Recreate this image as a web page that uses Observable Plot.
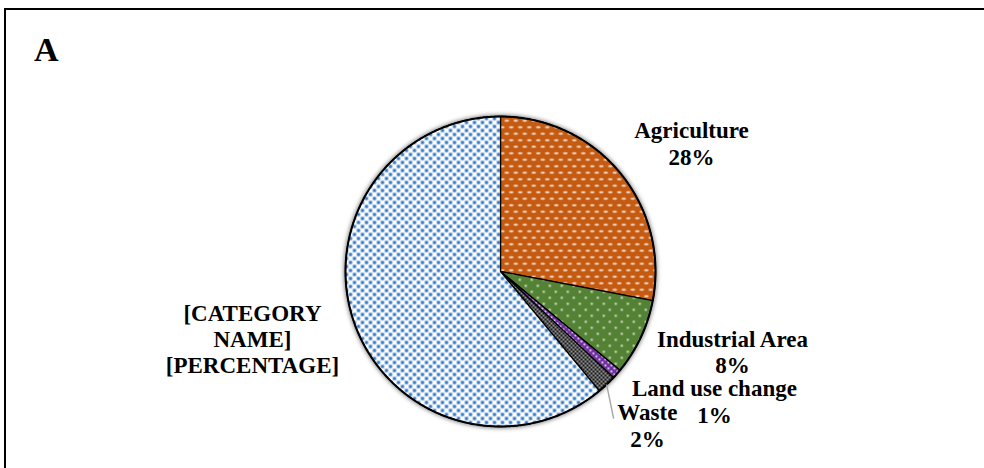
<!DOCTYPE html>
<html><head><meta charset="utf-8">
<script src="https://cdn.jsdelivr.net/npm/d3@7"></script>
<script src="https://cdn.jsdelivr.net/npm/@observablehq/plot@0.6"></script>
<style>
html,body{margin:0;padding:0;background:#fff;}
#wrap{position:relative;width:984px;height:468px;overflow:hidden;font-family:"Liberation Serif","Times New Roman",serif;}
#frame{position:absolute;left:4px;top:8px;width:1000px;height:500px;border-top:2px solid #000;border-left:2px solid #000;}
#panel{position:absolute;left:34px;top:33px;font-size:34px;font-weight:bold;line-height:1;}
#chart{position:absolute;left:0;top:0;}
</style></head><body>
<div id="wrap"><div id="frame"></div><div id="chart"></div><div id="panel">A</div></div>
<script>
// ---- data ----
const categories = ["Agriculture", "Industrial Area", "Land use change", "Waste", "[CATEGORY NAME]"];
const shares = [28, 8, 1, 2, 61];
const labels = ["Agriculture\n28%", "Industrial Area\n8%", "Land use change\n1%", "Waste\n2%", "[CATEGORY\nNAME]\n[PERCENTAGE]"];
const patternIds = ["pat-agri", "pat-ind", "pat-land", "pat-waste", "pat-other"];
// label layout: pixel offsets from slice edge at mid-angle
const labelOffsets = [[71.6, -29.5], [91.7, 14], [97.7, 27], [40.8, 40.4], [-102.2, 14.5]];
const leaderFor = ["Waste"];
const leaderEnd = [[7, 34]];

// ---- geometry from data ----
const R = 155; // pixel radius implied by margins
const total = d3.sum(shares);
let acc = 0;
const slices = categories.map((c, i) => {
  const a0 = acc / total * 2 * Math.PI; acc += shares[i];
  const a1 = acc / total * 2 * Math.PI;
  return {c, i, a0, a1, mid: (a0 + a1) / 2};
});
const polys = [];
slices.forEach(s => {
  const fill = `url(#${patternIds[s.i]})`;
  polys.push({c: s.c, x: 0, y: 0, fill});
  const n = Math.max(2, Math.ceil((s.a1 - s.a0) / (Math.PI / 360)));
  for (let k = 0; k <= n; k++) {
    const a = s.a0 + (s.a1 - s.a0) * k / n;
    polys.push({c: s.c, x: Math.sin(a), y: Math.cos(a), fill});
  }
});
const circle = d3.range(0, 720).map(k => ({x: Math.sin(k / 720 * 2 * Math.PI), y: Math.cos(k / 720 * 2 * Math.PI)}));
const labelData = slices.map(s => ({
  text: labels[s.i],
  x: Math.sin(s.mid) + labelOffsets[s.i][0] / R,
  y: Math.cos(s.mid) - labelOffsets[s.i][1] / R
}));
const leaders = leaderFor.map((name, j) => {
  const s = slices[categories.indexOf(name)];
  return {x1: Math.sin(s.mid), y1: Math.cos(s.mid),
          x2: Math.sin(s.mid) + leaderEnd[j][0] / R, y2: Math.cos(s.mid) - leaderEnd[j][1] / R};
});

const chart = Plot.plot({
  width: 984, height: 468,
  marginLeft: 345, marginRight: 329, marginTop: 116, marginBottom: 42,
  x: {domain: [-1, 1], axis: null},
  y: {domain: [-1, 1], axis: null},
  color: {type: "identity"},
  marks: [
    Plot.line(circle, {x: "x", y: "y", curve: "linear-closed", fill: "#6f6f6f", fillOpacity: 0.6, stroke: "#6f6f6f", strokeWidth: 3, ariaDescription: "shadow"}),
    Plot.line(polys, {x: "x", y: "y", z: "c", curve: "linear-closed", fill: "fill", stroke: "#000", strokeWidth: 1.3, strokeLinejoin: "round"}),
    Plot.line(circle, {x: "x", y: "y", curve: "linear-closed", stroke: "#000", strokeWidth: 2}),
    Plot.link(leaders, {x1: "x1", y1: "y1", x2: "x2", y2: "y2", stroke: "#a6a6a6", strokeWidth: 1.4}),
    Plot.text(labelData, {x: "x", y: "y", text: "text", fontSize: 23, fontWeight: "bold",
      fontFamily: "'Liberation Serif', 'Times New Roman', serif", lineHeight: 1.15,
      textAnchor: "middle", lineAnchor: "middle", fill: "#000"})
  ]
});

const svg = d3.select(chart);
svg.style("background", "transparent");
const defs = svg.insert("defs", ":first-child");
defs.html(`
<filter id="shadow" x="-20%" y="-20%" width="140%" height="140%"><feGaussianBlur stdDeviation="2.2"/></filter>
<pattern id="pat-agri" patternUnits="userSpaceOnUse" width="9" height="13">
  <rect width="9" height="13" fill="#C55A11"/>
  <ellipse cx="2.3" cy="3.2" rx="2.3" ry="1" fill="#fff" fill-opacity="0.85"/>
  <ellipse cx="6.8" cy="9.7" rx="2.3" ry="1" fill="#fff" fill-opacity="0.85"/>
</pattern>
<pattern id="pat-ind" patternUnits="userSpaceOnUse" width="12" height="12">
  <rect width="12" height="12" fill="#548235"/>
  <rect x="2.3" y="2.3" width="2" height="2" fill="#fff" fill-opacity="0.8"/>
  <rect x="8.3" y="8.3" width="2" height="2" fill="#fff" fill-opacity="0.8"/>
</pattern>
<pattern id="pat-land" patternUnits="userSpaceOnUse" width="6" height="6">
  <rect width="6" height="6" fill="#7030A0"/>
  <rect x="1" y="1" width="1.8" height="1.8" fill="#fff" fill-opacity="0.85"/>
  <rect x="4" y="4" width="1.8" height="1.8" fill="#fff" fill-opacity="0.85"/>
</pattern>
<pattern id="pat-waste" patternUnits="userSpaceOnUse" width="4" height="4">
  <rect width="4" height="4" fill="#1a1a1a"/>
  <circle cx="1" cy="1" r="0.9" fill="#fff" fill-opacity="0.75"/>
  <circle cx="3" cy="3" r="0.9" fill="#fff" fill-opacity="0.75"/>
</pattern>
<pattern id="pat-other" patternUnits="userSpaceOnUse" width="8" height="8">
  <rect width="8" height="8" fill="#ffffff"/>
  <rect x="0.4" y="0.4" width="3.2" height="3.2" fill="#2f74bd"/>
  <rect x="4.4" y="4.4" width="3.2" height="3.2" fill="#2f74bd"/>
</pattern>`);
svg.select('g[aria-description="shadow"]').attr("filter", "url(#shadow)");
document.getElementById("chart").appendChild(chart);
</script>
</body></html>
